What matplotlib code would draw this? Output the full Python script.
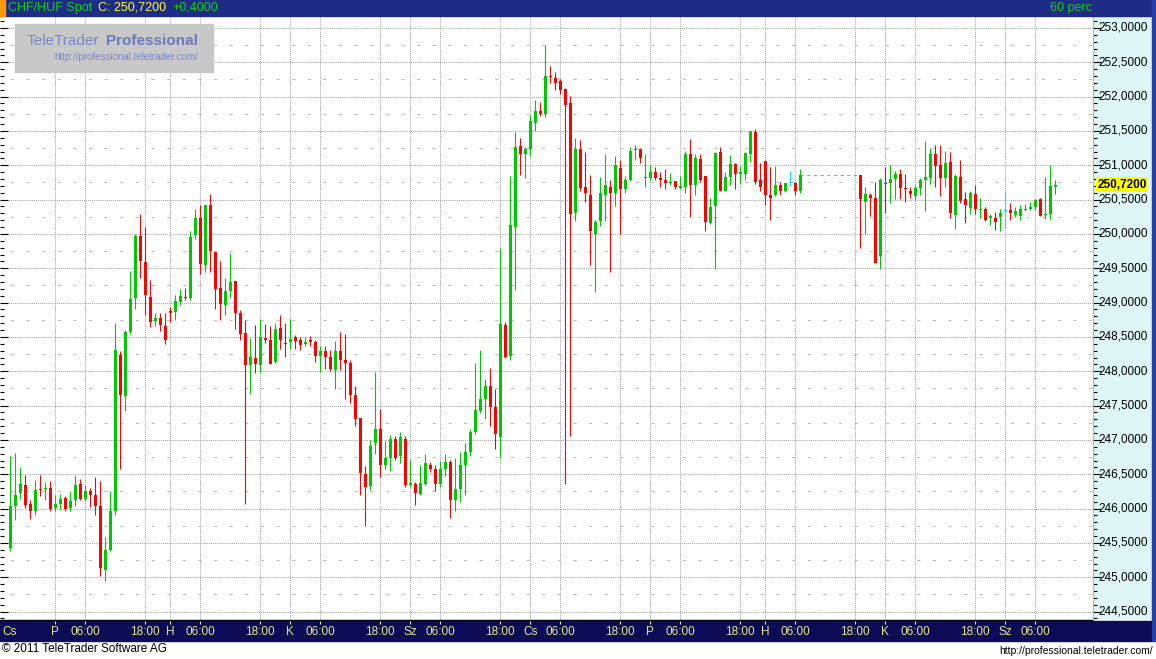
import numpy as np
import matplotlib.pyplot as plt
from matplotlib.patches import Rectangle
from matplotlib.ticker import MultipleLocator

plt.rcParams['font.family'] = ['Liberation Sans', 'DejaVu Sans']

nan = np.nan

# hourly CHF/HUF candles (nan = hours with no quotes)
opens = [
    245.43, 246.04, 246.23, 246.35, 246.07, 245.96, 246.29, 246.29, 246.30, 246.01,
    246.07, 246.16, 246.01, 246.12, 246.36, 246.14, 246.26, 246.20, 246.04, 245.11,
    245.40, 245.96, 248.24, 247.64, 248.57, 249.07, 249.97, 249.59, 249.08, 248.73,
    248.78, 248.66, 248.88, 248.87, 249.01, 249.08, 249.07, 249.98, 250.23, 249.55,
    250.42, 249.74, 249.21, 248.97, 249.17, 249.31, 248.85, 248.56, 248.09, 248.19,
    248.09, 248.49, 248.46, 248.14, 248.63, 248.41, 248.43, 248.50, 248.46, 248.40,
    248.46, 248.43, 248.22, 248.30, 248.21, 248.02, 248.30, 248.17, 248.12, 247.66,
    247.32, 246.50, 246.33, 246.95, 247.16, 246.63, 246.73, 247.01, 246.76, 247.01,
    246.35, 246.36, 246.22, 246.36, 246.64, 246.57, 246.36, 246.57, 246.68, 246.12,
    246.28, 246.63, 246.83, 247.11, 247.42, 247.60, 247.79, 247.48, 247.05, 248.67,
    248.22, 250.10, 251.28, 251.17, 251.24, 251.62, 251.79, 251.75, 252.30, 252.27,
    252.23, 252.11, 251.91, 250.31, 251.24, 250.68, 250.57, 250.00, 250.19, 250.57,
    250.68, 250.60, 250.96, 250.66, 250.79, 251.22, 251.24, 250.82, 250.82, 250.90,
    250.82, 250.79, 250.74, 250.77, 250.67, 250.69, 251.16, 250.72, 251.09, 250.84,
    250.16, 250.40, 251.19, 250.63, 250.83, 251.02, 250.88, 250.88, 251.17, 251.49,
    250.79, 251.06, 250.57, 250.56, 250.71, 250.62, 250.74, 250.74, 250.63, nan,
    nan, nan, nan, nan, nan, nan, nan, nan, nan, nan,
    250.86, 250.47, 250.57, 250.52, 249.68, 250.74, 250.74, 250.80, 250.87, 250.66,
    250.63, 250.55, 250.67, 250.79, 250.82, 251.17, 251.01, 250.82, 251.05, 250.28,
    250.83, 250.51, 250.38, 250.58, 250.35, 250.36, 250.23, 250.23, 250.25, 250.34,
    250.35, 250.28, 250.26, 250.35, 250.36, 250.39, 250.51, 250.28, 250.29, 250.68,
]
highs = [
    246.76, 246.81, 246.60, 246.49, 246.13, 246.42, 246.49, 246.39, 246.40, 246.20,
    246.22, 246.18, 246.26, 246.49, 246.43, 246.35, 246.30, 246.46, 246.40, 245.59,
    246.26, 248.71, 248.30, 248.60, 249.46, 250.00, 250.29, 250.10, 249.33, 248.85,
    248.85, 248.85, 248.94, 249.11, 249.20, 249.21, 250.04, 250.36, 250.42, 250.42,
    250.58, 249.74, 249.61, 249.36, 249.72, 249.31, 248.89, 248.75, 248.49, 248.67,
    248.76, 248.69, 248.66, 248.70, 248.82, 248.70, 248.76, 248.53, 248.50, 248.50,
    248.51, 248.46, 248.37, 248.37, 248.31, 248.44, 248.57, 248.54, 248.17, 247.79,
    247.32, 246.62, 247.00, 247.99, 247.45, 246.98, 247.07, 247.06, 247.12, 247.06,
    246.71, 246.39, 246.63, 246.79, 246.68, 246.63, 246.70, 246.79, 246.71, 246.74,
    246.82, 246.96, 247.16, 248.12, 248.31, 247.89, 248.05, 247.74, 249.80, 248.72,
    250.84, 251.48, 251.40, 251.27, 251.73, 251.95, 251.92, 252.75, 252.45, 252.36,
    252.26, 252.13, 252.01, 251.40, 251.37, 251.19, 250.86, 250.20, 250.83, 251.16,
    250.79, 251.14, 251.08, 250.84, 251.27, 251.30, 251.25, 251.16, 251.00, 250.98,
    250.90, 250.95, 250.89, 250.77, 250.85, 251.21, 251.38, 251.16, 251.16, 250.84,
    250.53, 251.19, 251.27, 250.90, 251.15, 251.03, 250.99, 251.19, 251.50, 251.53,
    251.04, 251.08, 250.98, 250.99, 250.75, 250.74, 250.92, 250.76, 250.95, nan,
    nan, nan, nan, nan, nan, nan, nan, nan, nan, nan,
    250.86, 250.68, 250.59, 250.76, 250.82, 250.97, 251.01, 250.92, 250.95, 250.87,
    250.68, 250.71, 250.82, 251.35, 251.25, 251.30, 251.30, 251.21, 251.19, 250.87,
    251.08, 250.61, 250.63, 250.71, 250.52, 250.39, 250.29, 250.32, 250.36, 250.63,
    250.45, 250.39, 250.42, 250.44, 250.47, 250.51, 250.52, 250.83, 251.00, 250.79,
]
lows = [
    245.39, 245.83, 246.14, 246.01, 245.85, 245.91, 246.18, 246.12, 245.97, 245.97,
    246.00, 245.96, 245.97, 246.04, 246.13, 246.13, 246.03, 245.90, 245.02, 244.95,
    245.39, 245.91, 246.58, 247.42, 248.55, 248.91, 249.36, 248.82, 248.64, 248.66,
    248.59, 248.40, 248.72, 248.74, 248.96, 249.04, 249.04, 249.93, 249.42, 249.44,
    249.45, 248.91, 248.75, 248.82, 249.07, 248.62, 248.46, 246.07, 247.67, 247.98,
    247.99, 248.41, 248.10, 248.12, 248.33, 248.21, 248.33, 248.33, 248.31, 248.37,
    248.37, 248.14, 247.99, 248.03, 248.00, 247.74, 248.02, 247.60, 247.54, 247.20,
    246.20, 245.75, 246.27, 246.79, 246.46, 246.57, 246.55, 246.71, 246.66, 246.31,
    246.32, 246.06, 246.20, 246.34, 246.54, 246.25, 246.31, 246.48, 245.87, 245.96,
    246.10, 246.20, 246.76, 247.09, 247.39, 247.31, 247.20, 246.87, 246.73, 248.19,
    248.17, 249.18, 250.86, 250.81, 251.14, 251.50, 251.72, 251.71, 252.20, 252.10,
    252.04, 246.36, 247.06, 250.19, 250.62, 250.46, 249.55, 249.16, 250.12, 250.19,
    249.45, 250.40, 250.00, 250.60, 250.77, 251.08, 251.04, 250.69, 250.79, 250.79,
    250.69, 250.66, 250.72, 250.66, 250.66, 250.60, 250.24, 250.56, 250.75, 250.05,
    250.15, 249.49, 250.62, 250.62, 250.72, 250.66, 250.73, 250.78, 251.05, 250.73,
    250.62, 250.42, 250.21, 250.55, 250.57, 250.61, 250.70, 250.57, 250.59, nan,
    nan, nan, nan, nan, nan, nan, nan, nan, nan, nan,
    249.80, 250.00, 250.26, 249.57, 249.49, 250.30, 250.45, 250.51, 250.51, 250.46,
    250.52, 250.50, 250.57, 250.34, 250.73, 250.68, 250.55, 250.68, 250.23, 250.07,
    250.45, 250.16, 250.29, 250.29, 250.23, 250.19, 250.13, 250.06, 250.04, 250.09,
    250.20, 250.25, 250.20, 250.34, 250.35, 250.35, 250.26, 250.22, 250.20, 250.58,
]
closes = [
    246.04, 246.20, 246.36, 246.06, 245.96, 246.27, 246.27, 246.30, 246.00, 246.07,
    246.14, 246.00, 246.11, 246.35, 246.14, 246.26, 246.20, 246.04, 245.13, 245.40,
    245.96, 248.31, 247.66, 248.57, 249.05, 249.97, 249.60, 249.11, 248.72, 248.77,
    248.67, 248.45, 248.85, 249.02, 249.09, 249.07, 249.96, 250.23, 249.56, 250.42,
    249.75, 249.20, 248.98, 249.17, 249.30, 248.85, 248.54, 248.09, 248.21, 248.11,
    248.50, 248.46, 248.11, 248.62, 248.46, 248.40, 248.47, 248.44, 248.38, 248.43,
    248.43, 248.22, 248.30, 248.21, 248.03, 248.30, 248.17, 248.12, 247.66, 247.31,
    246.52, 246.32, 246.91, 247.16, 246.63, 246.74, 247.01, 246.73, 247.04, 246.34,
    246.38, 246.23, 246.38, 246.66, 246.57, 246.36, 246.57, 246.68, 246.12, 246.28,
    246.64, 246.83, 247.11, 247.44, 247.60, 247.79, 247.48, 247.08, 248.69, 248.21,
    250.13, 251.27, 251.17, 251.24, 251.65, 251.79, 251.75, 252.30, 252.29, 252.20,
    252.10, 251.88, 250.29, 251.24, 250.67, 250.59, 250.05, 250.18, 250.60, 250.71,
    250.60, 251.00, 250.66, 250.79, 251.21, 251.24, 251.11, 250.83, 250.90, 250.82,
    250.79, 250.74, 250.76, 250.69, 250.70, 251.16, 250.72, 251.11, 250.79, 250.18,
    250.39, 251.18, 250.63, 250.83, 251.02, 250.88, 250.89, 251.18, 251.50, 250.76,
    250.69, 250.56, 250.53, 250.71, 250.62, 250.74, 250.74, 250.62, 250.86, nan,
    nan, nan, nan, nan, nan, nan, nan, nan, nan, nan,
    250.51, 250.58, 250.52, 249.58, 250.79, 250.73, 250.80, 250.87, 250.67, 250.65,
    250.58, 250.67, 250.79, 250.83, 251.17, 250.99, 250.82, 251.03, 250.31, 250.85,
    250.48, 250.42, 250.60, 250.36, 250.36, 250.20, 250.26, 250.18, 250.31, 250.34,
    250.30, 250.34, 250.36, 250.36, 250.39, 250.50, 250.26, 250.29, 250.70, 250.72,
]

# time axis (candle index of each grid line) and labels
tick_pos = [9, 15, 27, 32, 38, 50, 56, 62, 74, 80, 86, 98, 104, 110, 122,
            128, 134, 146, 151, 157, 169, 175, 181, 193, 199, 205]
tick_labels = ['P', '06:00', '18:00', 'H', '06:00', '18:00', 'K', '06:00', '18:00',
               'Sz', '06:00', '18:00', 'Cs', '06:00', '18:00', 'P', '06:00', '18:00',
               'H', '06:00', '18:00', 'K', '06:00', '18:00', 'Sz', '06:00']
first_day = 'Cs'
price_ticks = np.arange(244.5, 253.01, 0.5)
last_close = 250.72
change = 0.40

W, H = 1156, 659
GREEN, RED, CYAN = '#00c800', '#ff0000', '#00e8e8'
NAVY_TOP, NAVY_BOT = '#1e2c88', '#0c0c56'


def fx(x):
    return x / W


def fy(y):
    return 1 - y / H


def fmt(v):
    return f'{v:.4f}'.replace('.', ',')


fig = plt.figure(figsize=(W / 100, H / 100), dpi=100)
fig.patch.set_facecolor('white')

xlim = (-2.06, 216.54)
ylim = (244.378, 253.174)

# main price panel
ax = fig.add_axes([0, fy(620), fx(1093), 604 / H])
ax.set_xlim(*xlim)
ax.set_ylim(*ylim)
ax.set_facecolor('white')
for s in ['top', 'right', 'left']:
    ax.spines[s].set_visible(False)
ax.spines['bottom'].set_color('black')
ax.spines['bottom'].set_linewidth(1.0)
ax.set_xticks([])
ax.yaxis.set_major_locator(MultipleLocator(0.5))
ax.yaxis.set_minor_locator(MultipleLocator(0.1))
ax.tick_params(axis='y', which='major', direction='in', length=6, width=0.8, labelleft=False)
ax.tick_params(axis='y', which='minor', direction='in', length=3, width=0.8)

# grid
for p in price_ticks:
    ax.axhline(p, color='#a6a6a6', lw=0.75, dashes=(1, 1), zorder=0)
for p in price_ticks[:-1] + 0.25:
    ax.axhline(p, color='#bcbcbc', lw=0.75, linestyle=(5, (3, 12)), zorder=0)
for t in tick_pos:
    ax.axvline(t, color='#a6a6a6', lw=0.75, dashes=(1, 1), zorder=0)

# candles
o = np.array(opens)
h = np.array(highs)
l = np.array(lows)
c = np.array(closes)
idx = np.arange(len(o))
ok = ~np.isnan(o)
cols = np.where(c > o, GREEN, np.where(c < o, RED, CYAN))
ax.vlines(idx[ok], l[ok], h[ok], colors=cols[ok], lw=0.8, zorder=3)
body_lo = np.minimum(o, c)
body_h = np.maximum(np.abs(c - o), 0.016)
ax.bar(idx[ok], body_h[ok], bottom=body_lo[ok], width=0.64, color=cols[ok], lw=0, zorder=4)

# no-quote gap bridged at last close
gap = np.where(~ok)[0]
ax.plot([gap[0] - 1, gap[-1] + 1], [c[gap[0] - 1]] * 2, color=CYAN, lw=0.8,
        linestyle=(0, (3, 3)), zorder=3)

# price scale on the right
axr = fig.add_axes([fx(1093), fy(620), fx(59), 604 / H])
axr.set_ylim(*ylim)
axr.set_facecolor('#def6f6')
axr.set_xticks([])
for s in ['top', 'right', 'bottom']:
    axr.spines[s].set_visible(False)
axr.spines['left'].set_color('#e0b830')
axr.yaxis.set_major_locator(MultipleLocator(0.5))
axr.yaxis.set_minor_locator(MultipleLocator(0.1))
axr.tick_params(axis='y', which='major', direction='in', length=6, width=0.8, labelleft=False)
axr.tick_params(axis='y', which='minor', direction='in', length=3, width=0.8)
tr = axr.get_yaxis_transform()
for p in price_ticks:
    axr.text(0.1, p, fmt(p), transform=tr, fontsize=8.5, va='center', ha='left', color='black')
axr.text(0.07, last_close, fmt(last_close), transform=tr, fontsize=8.5, fontweight='bold',
         va='center', ha='left', color='black',
         bbox=dict(boxstyle='square,pad=0.12', fc='#ffff00', ec='none'))

# header bar
fig.add_artist(Rectangle((0, fy(16)), fx(1152), 16 / H, transform=fig.transFigure,
                         color=NAVY_TOP, zorder=5))
fig.add_artist(Rectangle((0, fy(16)), fx(5), 16 / H, transform=fig.transFigure,
                         color='#ff9900', zorder=6))
fig.text(fx(8), fy(8), 'CHF/HUF Spot', color='#10d010', fontsize=9, va='center', zorder=7)
fig.text(fx(98), fy(8), 'C: ' + fmt(last_close), color='#ffff30', fontsize=9, va='center', zorder=7)
fig.text(fx(172), fy(8), '+' + fmt(change), color='#10d010', fontsize=9, va='center', zorder=7)
fig.text(fx(1092), fy(8), '60 perc', color='#10d010', fontsize=9, va='center', ha='right', zorder=7)

# time axis bar
fig.add_artist(Rectangle((0, fy(641)), fx(1152), 20 / H, transform=fig.transFigure,
                         color=NAVY_BOT, zorder=5))
axb = fig.add_axes([0, fy(641), fx(1093), 20 / H], zorder=6)
axb.set_xlim(*xlim)
axb.set_ylim(0, 1)
axb.axis('off')
axb.vlines(tick_pos, 0.86, 1.0, color='#e6e68c', lw=0.8)
for t, lab in zip(tick_pos, tick_labels):
    axb.text(t, 0.45, lab, color='#e6e68c', fontsize=8.5, ha='center', va='center')
axb.text(xlim[0] + 0.4, 0.45, first_day, color='#e6e68c', fontsize=8.5, ha='left', va='center')

# right window border
fig.add_artist(Rectangle((fx(1152), fy(641)), fx(4), 641 / H, transform=fig.transFigure,
                         color='#2a3ca8', zorder=6))

# watermark
fig.add_artist(Rectangle((fx(15), fy(72)), fx(198), 48 / H, transform=fig.transFigure,
                         color='#c8c8c8', zorder=8))
fig.text(fx(27), fy(41), 'TeleTrader', color='#7888c8', fontsize=11, va='center', zorder=9)
fig.text(fx(198), fy(41), 'Professional', color='#6a7ac0', fontsize=11, fontweight='bold',
         va='center', ha='right', zorder=9)
fig.text(fx(198), fy(57), 'http://professional.teletrader.com/', color='#7888c8', fontsize=7,
         va='center', ha='right', zorder=9)

# footer
fig.text(fx(2), fy(649), '\u00a9 2011 TeleTrader Software AG', fontsize=8.5, va='center', color='black')
fig.text(fx(1153), fy(651), 'http://professional.teletrader.com/', fontsize=7.5, va='center',
         ha='right', color='black')

fig.savefig('out.png', dpi=100)
